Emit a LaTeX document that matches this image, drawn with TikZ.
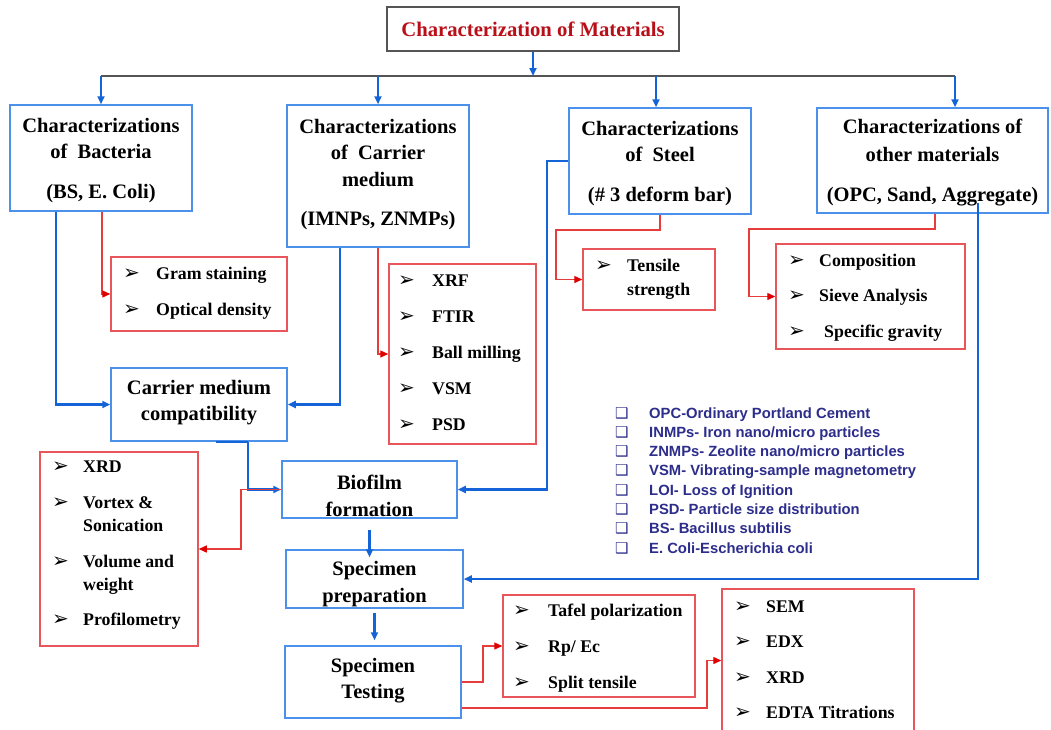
\documentclass[tikz,border=0pt]{standalone}
\usepackage{fontspec}
\setmainfont{Liberation Serif}
\newfontfamily\symf{DejaVu Sans}
\newfontfamily\arialf{Liberation Sans}
\usetikzlibrary{arrows.meta}
\definecolor{bluebd}{RGB}{75,145,235}
\definecolor{blueln}{RGB}{20,100,215}
\definecolor{redbd}{RGB}{232,85,90}
\definecolor{redln}{RGB}{230,60,60}
\definecolor{redtip}{RGB}{225,0,0}
\definecolor{titlered}{RGB}{185,15,25}
\definecolor{navy}{RGB}{45,45,140}
\definecolor{barcol}{RGB}{85,85,85}
\newlength{\abw}
\newcommand{\ab}{\makebox[\abw][l]{\symf\fontsize{20}{20}\selectfont ➢}}
\newcommand{\sqb}{\makebox[34pt][l]{\symf\fontsize{15}{15}\selectfont ❑}}
\begin{document}
\begin{tikzpicture}[x=1pt,y=-1pt,
  bluebox/.style={draw=bluebd, line width=1.5pt, inner sep=0pt},
  redbox/.style={draw=redbd, line width=1.5pt, inner sep=0pt},
  htxt/.style={align=center, inner sep=0pt, font=\fontsize{20.5}{26}\selectfont\bfseries},
  itxt/.style={align=left, inner sep=0pt, anchor=west, font=\fontsize{17.8}{36}\selectfont\bfseries},
  bline/.style={blueln, line width=2.2pt, -{Triangle[length=8pt,width=7pt]}},
  bplain/.style={blueln, line width=2.2pt},
  rline/.style={redln, line width=1.3pt, -{Triangle[length=8pt,width=7pt,color=redtip]}},
  gline/.style={barcol, line width=2pt}]
\fill[white] (0,0) rectangle (1051,729);
\useasboundingbox (0,0) rectangle (1051,729);

% title
\node[draw=barcol, line width=1.5pt, minimum width=292, minimum height=44, inner sep=0pt,
  text=titlered, font=\fontsize{20.7}{24}\selectfont\bfseries] (title) at (533,29) {Characterization of Materials};

% header boxes
\node[bluebox, minimum width=182, minimum height=106] (b1) at (101,158) {};
\node[htxt] (b1t) at (101,161) {Characterizations\\of~ Bacteria\\[14pt](BS, E. Coli)};
\node[bluebox, minimum width=182, minimum height=142] (b2) at (378,176) {};
\node[htxt] (b2t) at (378,174.5) {Characterizations\\of~ Carrier\\[1pt]medium\\[13pt](IMNPs, ZNMPs)};
\node[bluebox, minimum width=182, minimum height=106] (b3) at (660,161) {};
\node[htxt] (b3t) at (660,164) {Characterizations\\of~ Steel\\[14pt](\# 3 deform bar)};
\node[bluebox, minimum width=231, minimum height=105] (b4) at (932.5,160.5) {};
\node[htxt] (b4t) at (932.5,163) {Characterizations of\\[2pt]other materials\\[14pt](OPC, Sand, Aggregate)};

% process boxes
\node[bluebox, minimum width=176, minimum height=73] (compat) at (199,404.5) {};
\node[htxt] (compatt) at (199,403) {Carrier medium\\compatibility};
\node[bluebox, minimum width=175, minimum height=57] (bio) at (369.5,489.5) {};
\node[htxt] (biot) at (369.5,495.5) {Biofilm\\[1pt]formation};
\node[bluebox, minimum width=177, minimum height=58] (prep) at (374.5,579) {};
\node[htxt] (prept) at (374.5,584.5) {Specimen\\[1pt]preparation};
\node[bluebox, minimum width=176, minimum height=72] (test) at (373,682) {};
\node[htxt] (testt) at (373,680.5) {Specimen\\Testing};

% item boxes
\node[redbox, minimum width=176, minimum height=74] (gram) at (199,294) {};
\node[itxt] (gramt) at (123,293) {\global\abw=33pt\ab Gram staining\\\ab Optical density};
\node[redbox, minimum width=147, minimum height=180] (xrf) at (462.5,354) {};
\node[itxt] (xrft) at (398,353) {\global\abw=34pt\ab XRF\\\ab FTIR\\\ab Ball milling\\\ab VSM\\\ab PSD};
\node[redbox, minimum width=132, minimum height=61] (tens) at (649,279.5) {};
\node[itxt] (tenst) at (595,279) {\global\abw=32pt\ab Tensile\\[-12pt]\hspace*{32pt}strength};
\node[redbox, minimum width=189, minimum height=105] (comp) at (870.5,296.5) {};
\node[itxt] (compt) at (788,297.5) {\global\abw=31pt\ab Composition\\[-0.5pt]\ab Sieve Analysis\\[-0.5pt]\ab\hspace*{5pt}Specific gravity};
\node[redbox, minimum width=158, minimum height=194] (xrdl) at (119,549) {};
\node[itxt] (xrdlt) at (52,545.5) {\global\abw=31pt\ab XRD\\\ab Vortex \&\\[-13pt]\hspace*{31pt}Sonication\\\ab Volume and\\[-13pt]\hspace*{31pt}weight\\[-1pt]\ab Profilometry};
\node[redbox, minimum width=192, minimum height=102] (tafel) at (599,646) {};
\node[itxt] (tafelt) at (513,648) {\global\abw=35pt\ab Tafel polarization\\\ab Rp/ Ec\\\ab Split tensile};
\node[redbox, minimum width=192, minimum height=143] (sem) at (818,660.5) {};
\node[itxt] (semt) at (734,659.5) {\global\abw=32pt\ab SEM\\[-0.5pt]\ab EDX\\[-0.5pt]\ab XRD\\[-0.5pt]\ab EDTA Titrations};

% abbreviations
\node[anchor=west, align=left, inner sep=0pt, text=navy,
  font=\arialf\bfseries\fontsize{14.8}{19.3}\selectfont] (abbr) at (615,480.5)
  {\sqb OPC-Ordinary Portland Cement\\
   \sqb INMPs- Iron nano/micro particles\\
   \sqb ZNMPs- Zeolite nano/micro particles\\
   \sqb VSM- Vibrating-sample magnetometry\\
   \sqb LOI- Loss of Ignition\\
   \sqb PSD- Particle size distribution\\
   \sqb BS- Bacillus subtilis\\
   \sqb E. Coli-Escherichia coli};

% coordinates
\coordinate (bar) at (533,76);
\coordinate (bar1) at (101,76);
\coordinate (bar3) at (656,76);
\coordinate (bar4) at (955,76);
\coordinate (x56) at (56,0);
\coordinate (x102) at (102,0);
\coordinate (x340) at (340,0);
\coordinate (x216) at (216,0);
\coordinate (x248) at (248,0);
\coordinate (x935) at (935,0);
\coordinate (x978) at (978,0);
\coordinate (s1) at (547,489.5);
\coordinate (r3) at (241,489.5);
\coordinate (r4) at (556,230);
\coordinate (r5) at (749,229);
\coordinate (r6) at (483,682);
\coordinate (r7) at (707,708);

% top tree
\draw[gline] (bar1) -- (bar4);
\draw[bline] (title.south) -- (bar);
\draw[bline] (bar1) -- (bar1 |- b1.north);
\draw[bline] (bar1 -| b2.north) -- (b2.north);
\draw[bline] (bar3) -- (bar3 |- b3.north);
\draw[bline] (bar4) -- (bar4 |- b4.north);

% blue connectors
\draw[bline] (b1.south -| x56) |- (compat.west);
\draw[bline] (b2.south -| x340) |- (compat.east);
\draw[bplain] (compat.south -| x216) -- (compat.south -| x248);
\draw[bline] (compat.south -| x248) |- (bio.west);
\draw[bline] (b3.west) -| (s1) -- (bio.east);
\draw[bline, shorten <=-11pt] (b4.south -| x978) |- (prep.east);
\draw[bline, shorten <=11pt, shorten >=-8pt] (bio.south) -- (bio.south |- prep.north);
\draw[bline, shorten <=4pt, shorten >=5pt] (prep.south) -- (prep.south |- test.north);

% red connectors
\draw[rline] (b1.south -| x102) |- (gram.west);
\draw[rline] (b2.south) |- (xrf.west);
\draw[rline] (bio.west) -- (r3) |- (xrdl.east);
\draw[rline] (b3.south) |- (r4) |- (tens.west);
\draw[rline] (b4.south -| x935) |- (r5) |- (comp.west);
\draw[rline] (test.east) -- (r6) |- (tafel.west);
\draw[rline] (r7 -| test.east) -- (r7) |- (sem.west);
\end{tikzpicture}
\end{document}
